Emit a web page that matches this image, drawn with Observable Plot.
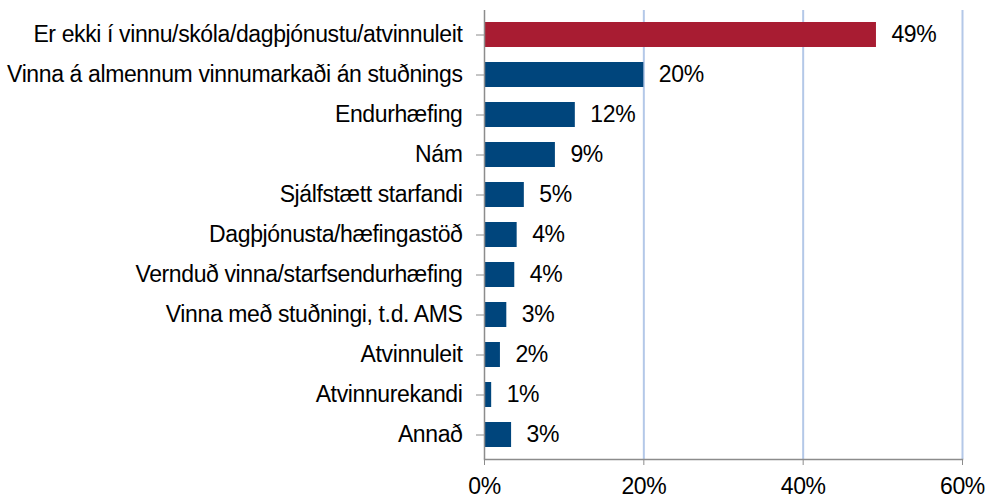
<!DOCTYPE html>
<html>
<head>
<meta charset="utf-8">
<script src="https://cdn.jsdelivr.net/npm/d3@7"></script>
<script src="https://cdn.jsdelivr.net/npm/@observablehq/plot@0.6"></script>
<style>
  html, body { margin: 0; padding: 0; background: #fff; }
  #chart svg { display: block; }
  #chart svg text { letter-spacing: -0.38px; }
</style>
</head>
<body>
<div id="chart"></div>
<script>
const categories = [
  "Er ekki í vinnu/skóla/dagþjónustu/atvinnuleit",
  "Vinna á almennum vinnumarkaði án stuðnings",
  "Endurhæfing",
  "Nám",
  "Sjálfstætt starfandi",
  "Dagþjónusta/hæfingastöð",
  "Vernduð vinna/starfsendurhæfing",
  "Vinna með stuðningi, t.d. AMS",
  "Atvinnuleit",
  "Atvinnurekandi",
  "Annað"
];
const values = [49.2, 20.0, 11.4, 8.9, 5.0, 4.1, 3.8, 2.8, 2.0, 0.9, 3.4];
const valueLabels = ["49%", "20%", "12%", "9%", "5%", "4%", "4%", "3%", "2%", "1%", "3%"];
const xTicks = [0, 20, 40, 60];
const xTickLabels = ["0%", "20%", "40%", "60%"];

const data = categories.map((c, i) => ({category: c, value: values[i], label: valueLabels[i], highlight: i === 0}));

const font = "'Liberation Sans', Arial, sans-serif";
const fs = 23;

const chart = Plot.plot({
  width: 1006,
  height: 504,
  marginLeft: 484,
  marginRight: 44,
  marginTop: 10,
  marginBottom: 45,
  style: {fontFamily: font, fontSize: fs + "px", color: "#000", background: "#fff"},
  x: {domain: [0, 60], axis: null},
  y: {domain: categories, axis: null, paddingInner: 0.38, paddingOuter: 0.19},
  marks: [
    Plot.ruleX(xTicks.filter(d => d > 0), {stroke: "#b4c8e8", strokeWidth: 2}),
    Plot.barX(data, {
      x: "value", y: "category",
      fill: d => d.highlight ? "#a81c32" : "#00457c"
    }),
    Plot.text(data, {
      x: "value", y: "category", text: "label",
      textAnchor: "start", dx: 15, fill: "#000",
      fontSize: fs, fontFamily: font
    }),
    Plot.ruleX([0], {stroke: "#8c8c8c", strokeWidth: 1.5}),
    Plot.frame({anchor: "bottom", stroke: "#8c8c8c", strokeWidth: 1.5}),
    Plot.axisY({
      anchor: "left", tickSize: 8, tickPadding: 14,
      fontSize: fs, fontFamily: font, fill: "#000", stroke: "#8c8c8c", label: null
    }),
    Plot.axisX(xTicks, {
      anchor: "bottom", tickSize: 6, tickPadding: 12,
      tickFormat: (d) => xTickLabels[xTicks.indexOf(d)],
      fontSize: fs, fontFamily: font, fill: "#000", stroke: "#8c8c8c", label: null
    })
  ]
});

document.getElementById("chart").appendChild(chart);
</script>
</body>
</html>
